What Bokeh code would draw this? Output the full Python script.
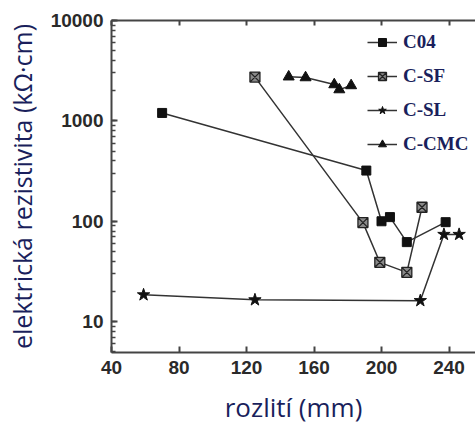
from bokeh.plotting import figure
from bokeh.models import Range1d, FixedTicker, LinearAxis, Legend, LegendItem
from bokeh.embed import file_html
from bokeh.resources import INLINE

# data
c04_x = [70, 191, 200, 205, 215, 238]
c04_y = [1200, 320, 100, 110, 62, 98]
csf_x = [125, 189, 199, 215, 224]
csf_y = [2730, 97, 39, 31, 138]
csl_x = [59, 125, 223, 237, 246]
csl_y = [18.5, 16.5, 16.2, 74, 74]
ccmc_x = [145, 155, 172, 175, 182]
ccmc_y = [2750, 2700, 2300, 2050, 2250]

x_ticks = [40, 80, 120, 160, 200, 240]
y_ticks = [10, 100, 1000, 10000]
y_tick_labels = ["10", "100", "1000", "10000"]
y_minor = [m * 10 ** e for e in range(0, 4) for m in range(1, 10)] + [10000]

p = figure(width=475, height=427, y_axis_type="log", output_backend="svg",
           toolbar_location=None,
           x_range=Range1d(40, 255.7), y_range=Range1d(4.93, 10000),
           min_border_left=111, min_border_right=0, min_border_top=20,
           min_border_bottom=72)
p.outline_line_color = None
p.grid.visible = False
p.background_fill_color = "white"
p.border_fill_color = "white"

axis_col = "#444444"
lab_col = "#2a2a2a"
title_col = "#1a1f5c"

xa = p.xaxis[0]
xa.ticker = FixedTicker(ticks=x_ticks)
xa.axis_line_width = 2
xa.axis_line_color = axis_col
xa.major_tick_in = 6
xa.major_tick_out = 0
xa.major_tick_line_width = 2
xa.major_tick_line_color = axis_col
xa.minor_tick_line_color = None
xa.major_label_text_font = "Liberation Sans"
xa.major_label_text_font_style = "bold"
xa.major_label_text_font_size = "19px"
xa.major_label_text_color = lab_col
xa.major_label_standoff = 8
xa.axis_label = "rozlití (mm)"
xa.axis_label_text_font = "Open Sans"
xa.axis_label_text_font_style = "normal"
xa.axis_label_text_font_size = "26px"
xa.axis_label_text_color = title_col
xa.axis_label_standoff = 12

ya = p.yaxis[0]
ya.ticker = FixedTicker(ticks=y_ticks, minor_ticks=y_minor)
ya.major_label_overrides = {t: l for t, l in zip(y_ticks, y_tick_labels)}
ya.axis_line_width = 2
ya.axis_line_color = axis_col
ya.major_tick_in = 6
ya.major_tick_out = 0
ya.major_tick_line_width = 2
ya.major_tick_line_color = axis_col
ya.minor_tick_in = 4
ya.minor_tick_out = 0
ya.minor_tick_line_color = axis_col
ya.minor_tick_line_width = 1.5
ya.major_label_text_font = "Liberation Sans"
ya.major_label_text_font_style = "bold"
ya.major_label_text_font_size = "19px"
ya.major_label_text_color = lab_col
ya.major_label_standoff = 8
ya.axis_label = "elektrická rezistivita (kΩ·cm)"
ya.axis_label_text_font = "Open Sans"
ya.axis_label_text_font_style = "normal"
ya.axis_label_text_font_size = "25px"
ya.axis_label_text_color = title_col
ya.axis_label_standoff = 9

top = LinearAxis(ticker=FixedTicker(ticks=x_ticks))
top.major_label_text_font_size = "0px"
top.major_label_text_color = None
top.axis_line_width = 2
top.axis_line_color = axis_col
top.major_tick_in = 5
top.major_tick_out = 0
top.major_tick_line_width = 2
top.major_tick_line_color = axis_col
top.minor_tick_line_color = None
p.add_layout(top, "above")

lc = "#333333"
l1 = p.line(c04_x, c04_y, line_color=lc, line_width=1.5)
m1 = p.scatter(c04_x, c04_y, marker="square", size=9, fill_color="#111111", line_color="#111111")
l2 = p.line(csf_x, csf_y, line_color=lc, line_width=1.5)
m2 = p.scatter(csf_x, csf_y, marker="square_x", size=10, fill_color="#8a8a8a", line_color="#222222", line_width=1.3)
l3 = p.line(csl_x, csl_y, line_color=lc, line_width=1.5)
m3 = p.scatter(csl_x, csl_y, marker="star", size=13, fill_color="#111111", line_color="#111111")
l4 = p.line(ccmc_x, ccmc_y, line_color=lc, line_width=1.5)
m4 = p.scatter(ccmc_x, ccmc_y, marker="triangle", size=11, fill_color="#111111", line_color="#111111")

legend = Legend(items=[
    LegendItem(label="C04", renderers=[l1, m1]),
    LegendItem(label="C-SF", renderers=[l2, m2]),
    LegendItem(label="C-SL", renderers=[l3, m3]),
    LegendItem(label="C-CMC", renderers=[l4, m4]),
], location=(256, 197))
legend.border_line_color = None
legend.background_fill_alpha = 0
legend.padding = 0
legend.margin = 0
legend.spacing = 12
legend.label_height = 20
legend.glyph_height = 20
legend.glyph_width = 30
legend.label_standoff = 6
legend.label_text_font = "Liberation Serif"
legend.label_text_font_style = "bold"
legend.label_text_font_size = "19px"
legend.label_text_color = title_col
p.add_layout(legend)

open("out.html", "w").write(file_html(p, INLINE))
